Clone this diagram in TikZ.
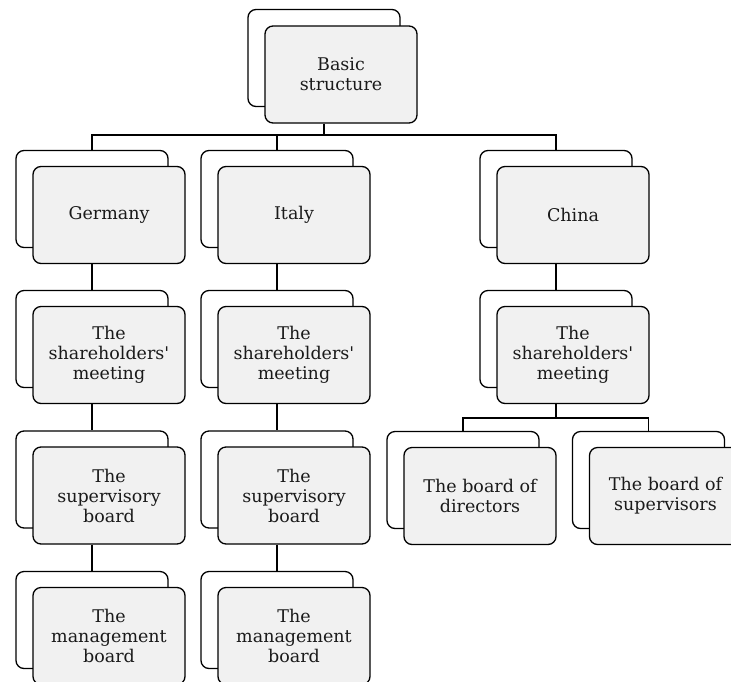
\documentclass[tikz,border=0pt]{standalone}
\usepackage{fontspec}
\setmainfont{DejaVu Serif}
\definecolor{cardfill}{HTML}{F1F1F1}
\definecolor{txt}{HTML}{1A1A1A}
\newcommand{\sq}{\textquotesingle}
\begin{document}
\begin{tikzpicture}[x=1pt,y=-1pt,
  card/.style={draw=black,line width=1.3pt,rounded corners=8pt,minimum width=152pt,minimum height=97pt,inner sep=0pt},
  backcard/.style={card,fill=white},
  frontcard/.style={card,fill=cardfill,text=txt,align=center,font=\fontsize{17.5}{20}\selectfont},
  link/.style={draw=black,line width=1.3pt}]
\useasboundingbox (0,0) rectangle (731,681);
% Row 0
\node[backcard] (bB) at (324,58) {};
\node[frontcard] (b) at (341,74.5) {Basic\\structure};
% Row 1
\node[backcard] (gB) at (92,199) {};
\node[frontcard] (g) at (109,215) {Germany};
\node[backcard] (iB) at (277,199) {};
\node[frontcard] (i) at (294,215) {Italy};
\node[backcard] (cB) at (556,199) {};
\node[frontcard] (c) at (573,215) {China};
% Row 2
\node[backcard] (gsB) at (92,339) {};
\node[frontcard] (gs) at (109,355) {The\\shareholders\sq\\meeting};
\node[backcard] (isB) at (277,339) {};
\node[frontcard] (is) at (294,355) {The\\shareholders\sq\\meeting};
\node[backcard] (csB) at (556,339) {};
\node[frontcard] (cs) at (573,355) {The\\shareholders\sq\\meeting};
% Row 3
\node[backcard] (gvB) at (92,479.5) {};
\node[frontcard] (gv) at (109,495.5) {The\\supervisory\\board};
\node[backcard] (ivB) at (277,479.5) {};
\node[frontcard] (iv) at (294,495.5) {The\\supervisory\\board};
\node[backcard] (cdB) at (463,480) {};
\node[frontcard] (cd) at (480,496) {The board of\\directors};
\node[backcard] (csvB) at (648.5,480) {};
\node[frontcard] (csv) at (665.5,496) {The board of\\supervisors};
% Row 4
\node[backcard] (gmB) at (92,620) {};
\node[frontcard] (gm) at (109,636) {The\\management\\board};
\node[backcard] (imB) at (277,620) {};
\node[frontcard] (im) at (294,636) {The\\management\\board};
% connectors
\coordinate (hub) at (324,135);
\coordinate (hub2) at (556,418);
\draw[link] (bB |- b.south) -- (hub);
\draw[link] (gB.north) |- (hub) -| (cB.north);
\draw[link] (iB.north) -- (iB.north |- hub);
\draw[link] (gB |- g.south) -- (gsB.north);
\draw[link] (iB |- i.south) -- (isB.north);
\draw[link] (cB |- c.south) -- (csB.north);
\draw[link] (gsB |- gs.south) -- (gvB.north);
\draw[link] (isB |- is.south) -- (ivB.north);
\draw[link] (gvB |- gv.south) -- (gmB.north);
\draw[link] (ivB |- iv.south) -- (imB.north);
\draw[link] (csB |- cs.south) -- (hub2);
\draw[link] (cdB.north) |- (hub2) -| (csvB.north);
\end{tikzpicture}
\end{document}
